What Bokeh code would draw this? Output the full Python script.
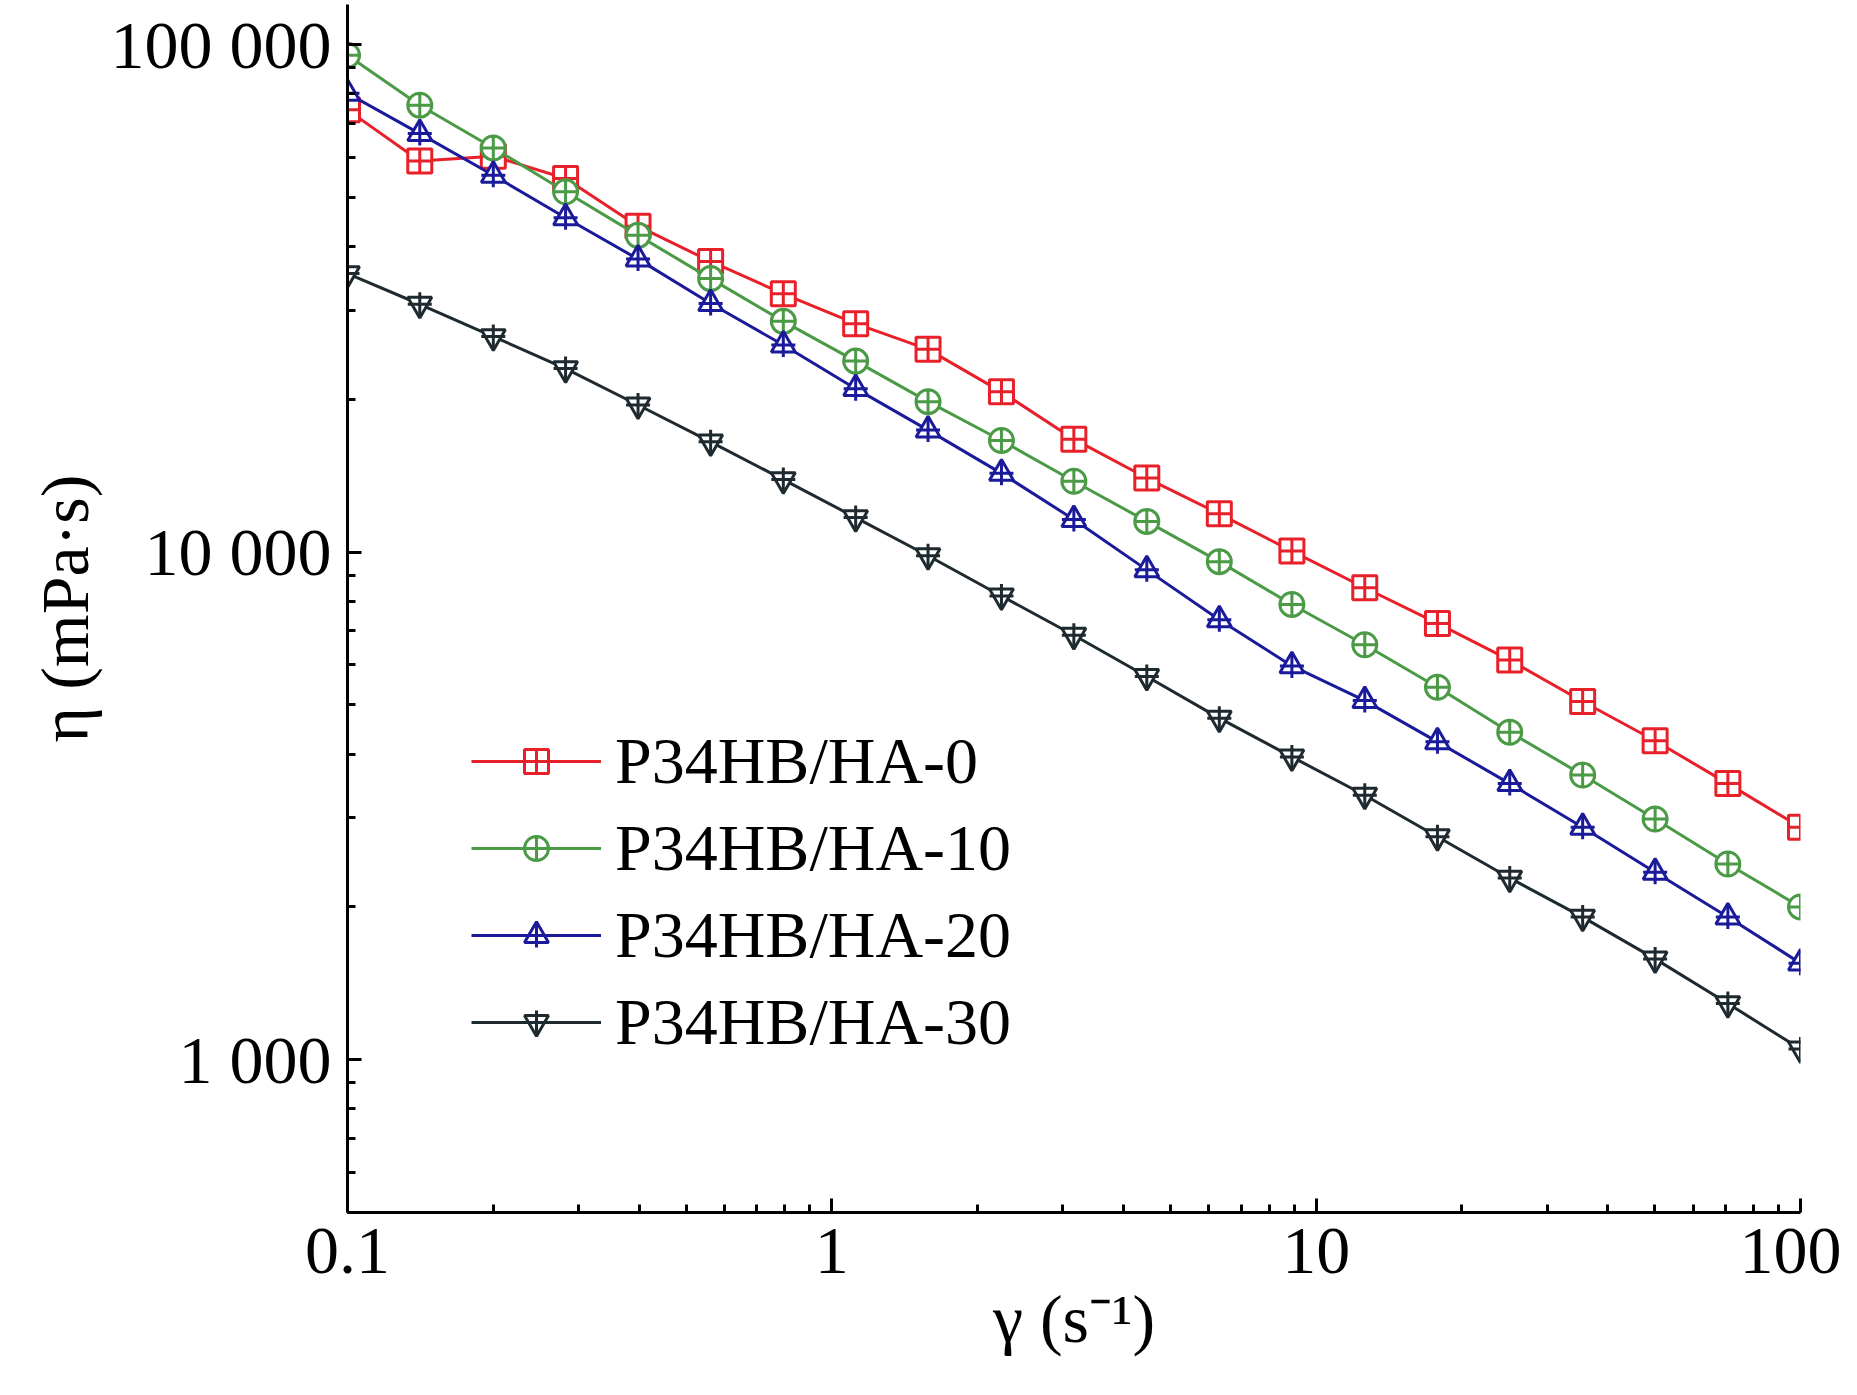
from bokeh.plotting import figure
from bokeh.models import Range1d, FixedTicker, CustomJSTickFormatter, Legend, LegendItem
from bokeh.embed import file_html
from bokeh.resources import INLINE

shear = [0.1, 0.141, 0.2, 0.282, 0.398, 0.562, 0.794, 1.12, 1.58, 2.24, 3.16, 4.47, 6.31, 8.91, 12.6, 17.8, 25.1, 35.5, 50.1, 70.8, 100]
ha0 = [74400, 59000, 60300, 54500, 43900, 37400, 32300, 28200, 25100, 20700, 16700, 14000, 11900, 10050, 8510, 7240, 6130, 5080, 4250, 3500, 2870]
ha10 = [95300, 76000, 62600, 51300, 42100, 34600, 28500, 23800, 19800, 16600, 13800, 11500, 9580, 7890, 6570, 5420, 4420, 3640, 2980, 2430, 2000]
ha20 = [80200, 66800, 55300, 45600, 37800, 30900, 25600, 21000, 17400, 14300, 11600, 9230, 7360, 5970, 5100, 4230, 3500, 2870, 2340, 1910, 1550]
ha30 = [35400, 30800, 26600, 23000, 19500, 16500, 13900, 11700, 9840, 8200, 6860, 5690, 4710, 3950, 3320, 2750, 2280, 1910, 1580, 1290, 1050]
names = ["P34HB/HA-0", "P34HB/HA-10", "P34HB/HA-20", "P34HB/HA-30"]
colors = ["#e8202a", "#4a9a46", "#1a1a9a", "#1e2a30"]

F = "Liberation Serif"
p = figure(width=1841, height=1379, x_axis_type="log", y_axis_type="log",
           x_range=Range1d(0.1, 100), y_range=Range1d(500, 120000),
           output_backend="svg", toolbar_location=None,
           min_border_left=347, min_border_right=41, min_border_top=4, min_border_bottom=167)
p.grid.visible = False
p.outline_line_color = None
for ax in (p.xaxis[0], p.yaxis[0]):
    ax.axis_line_width = 3
    ax.axis_line_color = "black"
    ax.major_tick_line_width = 3
    ax.minor_tick_line_width = 3
    ax.major_tick_in = 14
    ax.major_tick_out = 0
    ax.minor_tick_in = 8
    ax.minor_tick_out = 0
    ax.major_label_text_font = F
    ax.major_label_text_font_size = "68px"
    ax.major_label_text_color = "black"
    ax.axis_label_text_font = F
    ax.axis_label_text_font_size = "68px"
    ax.axis_label_text_color = "black"
    ax.axis_label_text_font_style = "normal"
p.xaxis.ticker = FixedTicker(ticks=[0.1, 1, 10, 100],
                             minor_ticks=[v * d for d in (0.1, 1, 10) for v in range(2, 10)])
p.xaxis.formatter = CustomJSTickFormatter(code="return tick>=1 ? tick.toFixed(0) : tick.toString();")
p.yaxis.ticker = FixedTicker(ticks=[1000, 10000, 100000],
                             minor_ticks=[v * d for d in (100, 1000, 10000) for v in range(2, 10)])
p.yaxis.formatter = CustomJSTickFormatter(code="return tick.toFixed(0).replace(/\\B(?=(\\d{3})+(?!\\d))/g, ' ');")
p.xaxis.axis_label = "γ (s⁻¹)"
p.yaxis.axis_label = "η (mPa·s)"
p.xaxis.major_label_standoff = 16
p.yaxis.major_label_standoff = 16

items = []
series = [ha0, ha10, ha20, ha30]
for i, (ys, c, n) in enumerate(zip(series, colors, names)):
    r = [p.line(shear, ys, color=c, line_width=3)]
    kw = dict(size=24, line_color=c, fill_color="white", line_width=3)
    if i == 0:
        r.append(p.scatter(shear, ys, marker="square_cross", **kw))
    elif i == 1:
        r.append(p.scatter(shear, ys, marker="circle_cross", **kw))
    elif i == 2:
        r.append(p.scatter(shear, ys, marker="triangle", **kw))
        r.append(p.scatter(shear, ys, marker="cross", size=24, line_color=c, line_width=3))
    else:
        r.append(p.scatter(shear, ys, marker="inverted_triangle", **kw))
        r.append(p.scatter(shear, ys, marker="cross", size=24, line_color=c, line_width=3))
    items.append(LegendItem(label=n, renderers=r))

leg = Legend(items=items, location=(124, 152), border_line_color=None,
             background_fill_alpha=0, label_text_font=F, label_text_font_size="66px",
             label_text_color="black",
             glyph_width=130, glyph_height=60, label_height=66, spacing=11, label_standoff=14)
p.add_layout(leg, "center")

open("out.html", "w").write(file_html(p, INLINE))
